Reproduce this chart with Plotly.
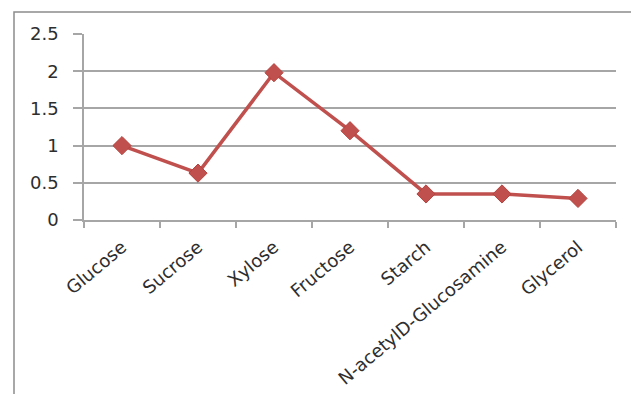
import plotly.graph_objects as go

categories = ["Glucose", "Sucrose", "Xylose", "Fructose", "Starch",
              "N-acetylD-Glucosamine", "Glycerol"]
values = [1.0, 0.63, 1.98, 1.2, 0.35, 0.35, 0.29]
y_ticks = [0, 0.5, 1, 1.5, 2, 2.5]
y_ticktext = ["0", "0.5", "1", "1.5", "2", "2.5"]

W, H = 631, 394
L, R, T, B = 84, 15, 34, 174
pw, ph = W - L - R, H - T - B

fig = go.Figure(go.Scatter(
    x=categories, y=values, mode="lines+markers",
    line=dict(color="#C0504D", width=3.5),
    marker=dict(symbol="diamond", size=14, color="#C0504D",
                line=dict(color="#B8433F", width=1)),
    cliponaxis=False,
))

font = dict(family="DejaVu Sans", size=18, color="#2E2E2E")

fig.update_layout(
    width=W, height=H,
    margin=dict(l=L, r=R, t=T, b=B, pad=0, autoexpand=False),
    paper_bgcolor="white", plot_bgcolor="white",
    showlegend=False,
    font=font,
    xaxis=dict(
        type="category", tickangle=-40, tickson="boundaries",
        ticks="outside", ticklen=6, tickcolor="#A6A6A6", tickwidth=1.5,
        showline=True, linecolor="#A6A6A6", linewidth=1.5,
        showgrid=False, tickfont=font, range=[-0.5, 6.5],
        ticklabelstandoff=8, automargin=False,
    ),
    yaxis=dict(
        range=[0, 2.5], tickvals=y_ticks, ticktext=y_ticktext,
        ticks="outside", ticklen=9, tickcolor="#A6A6A6", tickwidth=1.5,
        showline=True, linecolor="#A6A6A6", linewidth=1.5,
        showgrid=True, gridcolor="#A6A6A6", gridwidth=1.5,
        zeroline=False, tickfont=font, ticklabelstandoff=11,
        automargin=False,
    ),
    shapes=[dict(
        type="rect", xref="paper", yref="paper",
        x0=(14 - L) / pw, x1=(W + 10 - L) / pw,
        y0=-(H + 10 - T - ph) / ph, y1=1 + (T - 12) / ph,
        line=dict(color="#8C8C8C", width=1.5), fillcolor="rgba(0,0,0,0)",
        layer="below",
    )],
)

fig.write_html("out.html")
